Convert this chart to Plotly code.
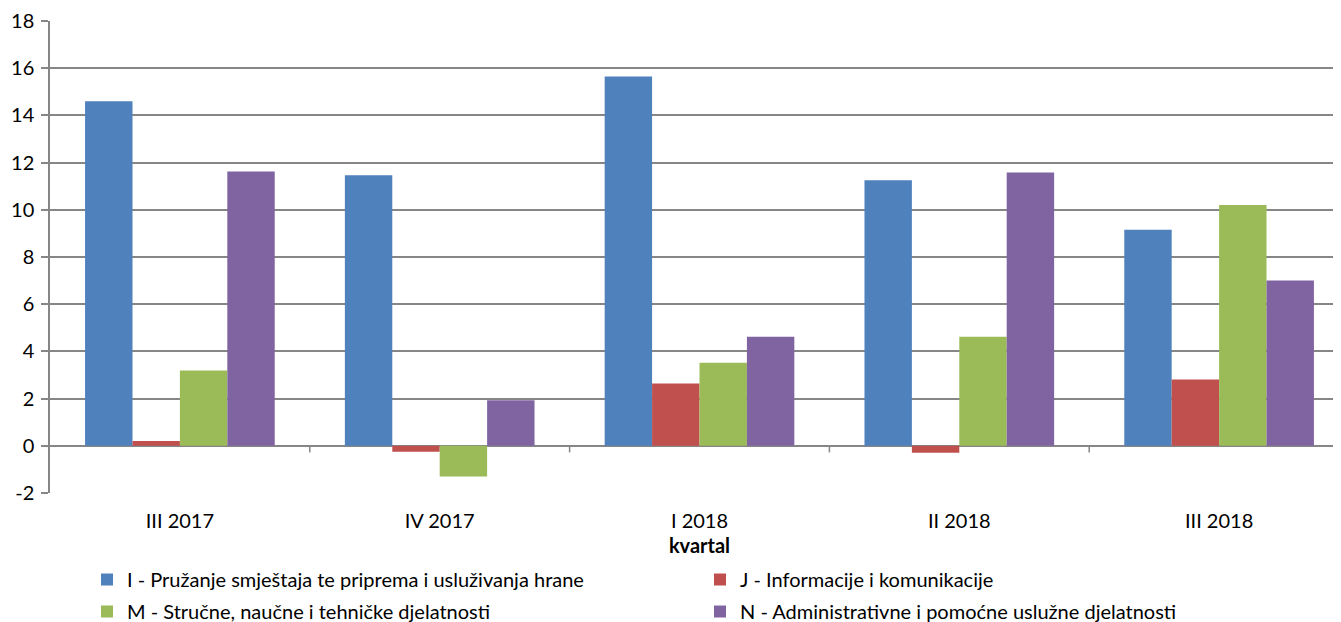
import plotly.graph_objects as go

categories = ["III 2017", "IV 2017", "I 2018", "II 2018", "III 2018"]
series_names = [
    "I - Pružanje smještaja te priprema i usluživanja hrane",
    "J - Informacije i komunikacije",
    "M - Stručne, naučne i tehničke djelatnosti",
    "N - Administrativne i pomoćne uslužne djelatnosti",
]
values_I = [14.6, 11.46, 15.65, 11.25, 9.15]
values_J = [0.2, -0.25, 2.64, -0.29, 2.81]
values_M = [3.19, -1.3, 3.52, 4.62, 10.2]
values_N = [11.62, 1.93, 4.62, 11.58, 7.0]
colors = ["#4F81BD", "#C0504D", "#9BBB59", "#8064A2"]
legend_rows = ["legend", "legend", "legend2", "legend2"]
y_ticks = [-2, 0, 2, 4, 6, 8, 10, 12, 14, 16, 18]
y_ticklabels = ["-2", "0", "2", "4", "6", "8", "10", "12", "14", "16", "18"]

FONT = "Lato"
FS = 20
H = 622
fig = go.Figure()
for name, vals, col, lg in zip(series_names, [values_I, values_J, values_M, values_N], colors, legend_rows):
    fig.add_trace(go.Bar(name=name, x=categories, y=vals, legend=lg,
                         marker=dict(color=col, line=dict(width=0))))

# tick marks on zero line at category boundaries
for i in range(len(categories) - 1):
    fig.add_shape(type="line", xref="x", yref="y", x0=i + 0.5, x1=i + 0.5, y0=0, y1=-0.28,
                  line=dict(color="#868686", width=1.5), layer="above")

leg_common = dict(orientation="h", xref="container", yref="container",
                  x=79 / 1341, xanchor="left", yanchor="top",
                  entrywidth=568, entrywidthmode="pixels", font=dict(size=FS, family=FONT),
                  itemclick=False, bgcolor="rgba(0,0,0,0)")

fig.update_layout(
    width=1341, height=H,
    margin=dict(l=42, r=0, t=13, b=137, autoexpand=False),
    paper_bgcolor="white", plot_bgcolor="white",
    barmode="group", bargap=0.27, bargroupgap=0,
    font=dict(family=FONT, size=FS, color="#000000"),
    showlegend=True,
    legend=dict(**leg_common, y=(H - 552) / H),
    legend2=dict(**leg_common, y=(H - 584) / H),
    xaxis=dict(range=[-0.5, 4.5], showgrid=False, showline=False, ticks="", automargin=False,
               tickfont=dict(size=FS, family=FONT), ticklabelstandoff=14,
               title=dict(text="<b>kvartal</b>", font=dict(size=FS, family=FONT), standoff=7)),
    yaxis=dict(range=[-2, 18], tickvals=y_ticks, ticktext=y_ticklabels,
               showgrid=True, gridcolor="#868686", gridwidth=1.5,
               automargin=False, ticklabeloverflow="allow", ticklabelstandoff=3,
               zeroline=True, zerolinecolor="#868686", zerolinewidth=1.5,
               showline=True, linecolor="#868686", linewidth=1.5,
               ticks="outside", ticklen=7, tickcolor="#868686", tickwidth=1.5,
               tickfont=dict(size=FS, family=FONT)),
)
fig.write_html("out.html")
